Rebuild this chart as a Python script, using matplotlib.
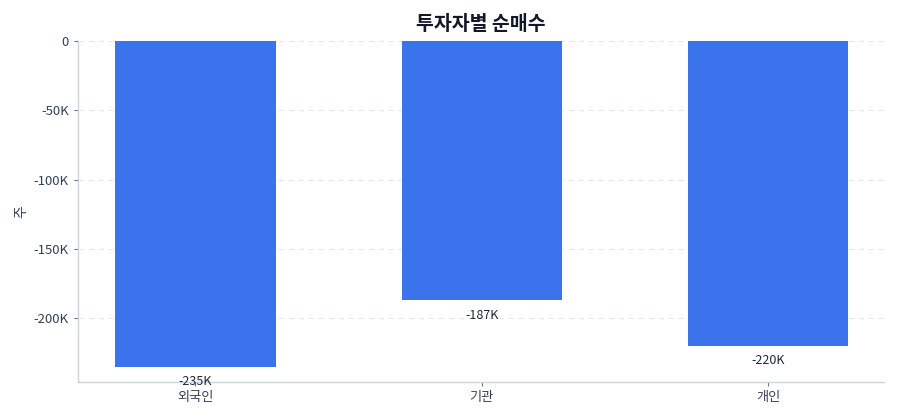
import matplotlib
matplotlib.use("Agg")
import matplotlib.pyplot as plt
from matplotlib.ticker import FuncFormatter

plt.rcParams['font.family'] = ['Noto Sans CJK KR', 'DejaVu Sans']

categories = ['외국인', '기관', '개인']
values = [-235000, -187000, -220000]
labels = ['-235K', '-187K', '-220K']

bar_color = '#3b73ed'
spine_color = '#cbd5e1'
text_color = '#334155'

fig = plt.figure(figsize=(9, 4.2), dpi=100)
ax = fig.add_axes([78/900, 1-382/420, (884-78)/900, (382-41)/420])

x = list(range(len(categories)))
ax.bar(x, values, width=0.56, color=bar_color, zorder=2)
for xi, v, lab in zip(x, values, labels):
    ax.annotate(lab, (xi, v), xytext=(0, -15), textcoords='offset pixels',
                ha='center', va='center', fontsize=9, color='#1f2937')

ax.set_xlim(-0.41, 2.405)
ax.set_ylim(-246000, 0)
ax.set_yticks([0, -50000, -100000, -150000, -200000])
ax.yaxis.set_major_formatter(FuncFormatter(lambda v, p: '0' if v == 0 else f'{int(v/1000)}K'))
ax.set_xticks(x)
ax.set_xticklabels(categories)
ax.tick_params(axis='both', colors=text_color, labelsize=9.5, length=3, width=0.8)
ax.tick_params(axis='x', color='#64748b')
ax.tick_params(axis='y', color='#64748b')
ax.grid(axis='y', linestyle=(0, (5, 4)), color='#e2e8f0', linewidth=0.8, zorder=0)
for s in ['top', 'right']:
    ax.spines[s].set_visible(False)
for s in ['left', 'bottom']:
    ax.spines[s].set_color(spine_color)
    ax.spines[s].set_linewidth(1)
ax.set_ylabel('주', color=text_color, fontsize=10, labelpad=4)
ax.set_title('투자자별 순매수', fontsize=14, fontweight='bold', color='#111827', pad=8)

fig.savefig('out.png', dpi=100)
